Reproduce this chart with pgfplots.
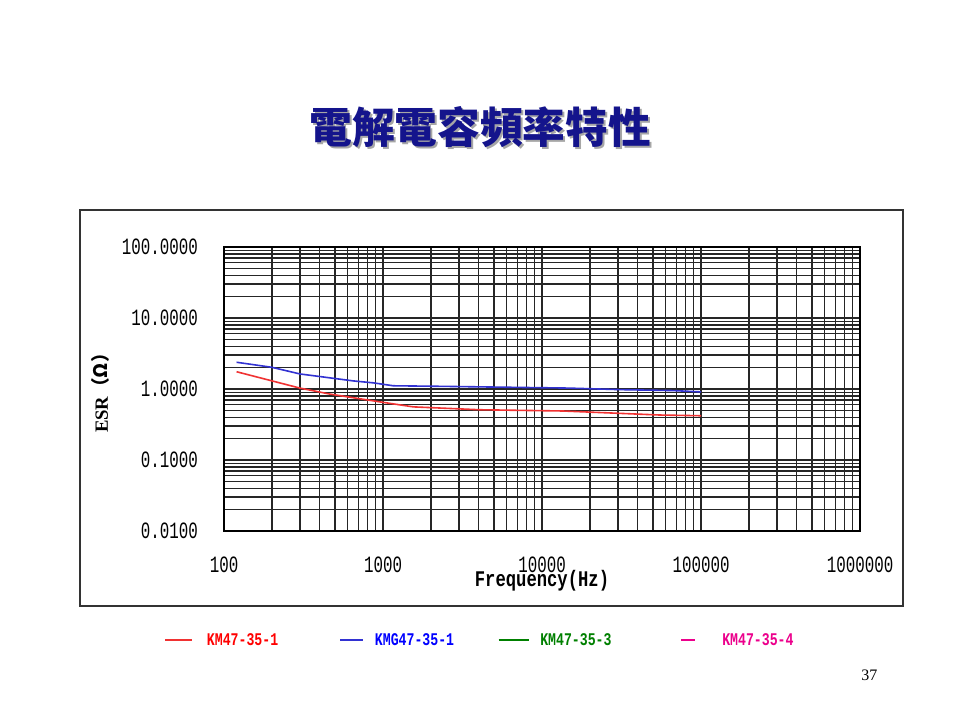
\documentclass[border=0pt]{standalone}
\usepackage{pgfplots}
\pgfplotsset{compat=1.18}
\usepackage{fontspec}
\setmainfont{Liberation Serif}
\setmonofont{Liberation Mono}
\newfontfamily\cjk{Noto Sans CJK TC}
\newcommand{\tk}[1]{\scalebox{0.95}[1.4]{#1}}
\definecolor{navy}{RGB}{20,20,140}
\definecolor{esrblue}{RGB}{50,50,210}
\definecolor{esrred}{RGB}{240,50,50}
\begin{document}
\begin{tikzpicture}[x=1pt,y=1pt]
\path[fill=white,use as bounding box] (0,0) rectangle (720,540);
% title with shadow
\node[text=gray!70] at (361.5,443.2) {\fontsize{32}{36}\selectfont\cjk\bfseries 電解電容頻率特性};
\node[text=navy] at (360,444.7) {\fontsize{32}{36}\selectfont\cjk\bfseries 電解電容頻率特性};
% chart frame
\draw[black!80,line width=1.3pt] (60,85.5) rectangle (677.25,382.5);
\begin{axis}[
  at={(168pt,141.75pt)}, anchor=south west,
  scale only axis, width=477pt, height=213pt,
  xmode=log, ymode=log,
  xmin=100, xmax=1000000, ymin=0.01, ymax=100,
  axis line style={black,line width=1.6pt},
  grid=both,
  major grid style={black!85,line width=1.1pt},
  minor grid style={black!85,line width=1.1pt},
  major tick length=0pt, minor tick length=0pt,
  xtick={100,1000,10000,100000,1000000},
  xticklabels={\tk{100},\tk{1000},\tk{10000},\tk{100000},\tk{1000000}},
  minor xtick={200,300,400,500,600,700,800,900,2000,3000,4000,5000,6000,7000,8000,9000,20000,30000,40000,50000,60000,70000,80000,90000,200000,300000,400000,500000,600000,700000,800000,900000},
  ytick={0.01,0.1,1,10,100},
  yticklabels={\tk{0.0100},\tk{0.1000},\tk{1.0000},\tk{10.0000},\tk{100.0000}},
  minor ytick={0.02,0.03,0.04,0.05,0.06,0.07,0.08,0.09,0.2,0.3,0.4,0.5,0.6,0.7,0.8,0.9,2,3,4,5,6,7,8,9,20,30,40,50,60,70,80,90},
  tick label style={font=\fontsize{12.5}{14}\selectfont\ttfamily},
  yticklabel style={xshift=-16pt},
  xticklabel style={yshift=-16pt},
  clip=false,
]
\addplot[esrblue,line width=1.2pt] coordinates {
(120,2.38) (200,2.02) (300,1.63) (650,1.30) (870,1.22) (1160,1.11)
(2350,1.09) (14600,1.03) (30900,0.98) (66700,0.95) (100000,0.91)};
\addplot[esrred,line width=1.2pt] coordinates {
(120,1.75) (300,1.03) (460,0.85) (950,0.66) (1550,0.56) (4070,0.51)
(13500,0.49) (55000,0.43) (100000,0.42)};
\end{axis}
% axis titles
\node at (406.5,104.25) {\fontsize{12.9}{14}\selectfont\ttfamily\bfseries\scalebox{1}[1.3]{Frequency(Hz)}};
\node[rotate=90] at (75.5,248.6) {\fontsize{14}{16}\selectfont\bfseries ESR\cjk（Ω）};
% legend
\begin{scope}[font=\fontsize{9.9}{11}\selectfont\ttfamily\bfseries]
\draw[esrred,line width=0.9pt] (124,60) -- (144,60);
\node[anchor=west,text=red,inner sep=0] at (155,60) {\scalebox{1}[1.35]{KM47-35-1}};
\draw[esrblue,line width=0.9pt] (255,60) -- (272,60);
\node[anchor=west,text=blue,inner sep=0] at (281,60) {\scalebox{1}[1.35]{KMG47-35-1}};
\draw[green!50!black,line width=0.9pt] (374,60) -- (397,60);
\node[anchor=west,text=green!50!black,inner sep=0] at (405,60) {\scalebox{1}[1.35]{KM47-35-3}};
\draw[magenta,line width=0.9pt] (511,60) -- (521,60);
\node[anchor=west,text=magenta,inner sep=0] at (541.5,60) {\scalebox{1}[1.35]{KM47-35-4}};
\end{scope}
% page number
\node at (652,33.75) {\fontsize{12}{14}\selectfont 37};
\end{tikzpicture}
\end{document}
